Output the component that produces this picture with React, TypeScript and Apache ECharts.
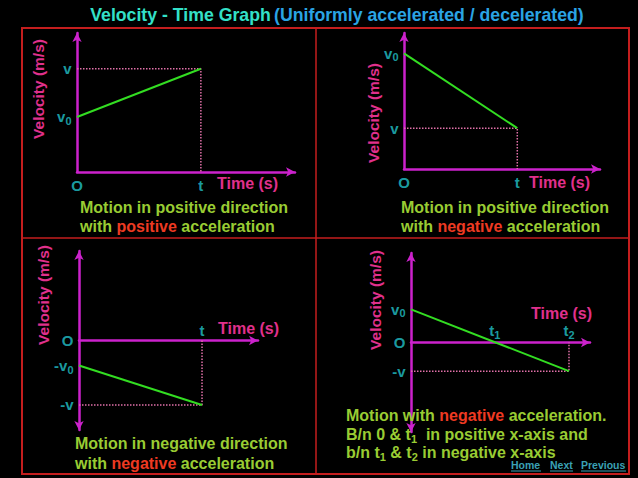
import React, { useEffect, useRef } from 'react';
import * as echarts from 'echarts';

// Panel 1: positive direction, positive acceleration
const q1Time = [0, 10];
const q1Velocity = [4, 7.5];
const q1YTicks = [{ label: 'v', value: 7.5 }, { label: 'v_0', value: 4 }];
const q1XTicks = [{ label: 't', value: 10 }];

// Panel 2: positive direction, negative acceleration
const q2Time = [0, 10];
const q2Velocity = [8.5, 3];
const q2YTicks = [{ label: 'v_0', value: 8.5 }, { label: 'v', value: 3 }];
const q2XTicks = [{ label: 't', value: 10 }];

// Panel 3: negative direction, negative acceleration
const q3Time = [0, 10];
const q3Velocity = [-2.8, -7.2];
const q3YTicks = [{ label: '-v_0', value: -2.8 }, { label: '-v', value: -7.2 }];
const q3XTicks = [{ label: 't', value: 10 }];

// Panel 4: crosses zero at t1
const q4Time = [0, 10];
const q4Velocity = [3.7, -3.2];
const q4YTicks = [{ label: 'v_0', value: 3.7 }, { label: '-v', value: -3.2 }];
const q4XTicks = [{ label: 't_1', value: 5.3 }, { label: 't_2', value: 10 }];

const FONT = '"Liberation Sans", Arial, sans-serif';
const MAGENTA = '#cc22cc';
const GREEN = '#33dd22';
const DOTTED = '#e070a8';
const CYAN = '#22c4cc';
const PINK = '#e0308c';
const TEXT_GREEN = '#99cc33';
const RED = '#ee3a22';
const BORDER = '#c41e1e';

const panels = [
  { time: q1Time, velocity: q1Velocity, yTicks: q1YTicks, xTicks: q1XTicks,
    grid: { left: 77, top: 33, width: 218, height: 139 }, xMax: 17.6, yMin: 0, yMax: 10.1,
    xSide: 'bottom', originSide: 'bottom', bothArrows: false },
  { time: q2Time, velocity: q2Velocity, yTicks: q2YTicks, xTicks: q2XTicks,
    grid: { left: 404, top: 33, width: 196, height: 136 }, xMax: 17.3, yMin: 0, yMax: 10,
    xSide: 'bottom', originSide: 'bottom', bothArrows: false },
  { time: q3Time, velocity: q3Velocity, yTicks: q3YTicks, xTicks: q3XTicks,
    grid: { left: 79, top: 251, width: 179, height: 179 }, xMax: 14.55, yMin: -10, yMax: 10,
    xSide: 'top', originSide: 'left', bothArrows: true },
  { time: q4Time, velocity: q4Velocity, yTicks: q4YTicks, xTicks: q4XTicks,
    grid: { left: 411, top: 253, width: 179, height: 179 }, xMax: 11.33, yMin: -10, yMax: 10,
    xSide: 'top', originSide: 'left', bothArrows: true },
];

const sub = (s: string) => s.replace(/_(\d)/g, '{s|$1}');

const tickRich = {
  s: { fontSize: 11, fontWeight: 'bold', fontFamily: FONT, color: CYAN, verticalAlign: 'bottom', padding: [8, 0, 0, 0] },
};

const captionRich = {
  r: { fill: RED, color: RED, fontSize: 16, fontWeight: 'bold', fontFamily: FONT },
  s: {
    fill: TEXT_GREEN, color: TEXT_GREEN, fontSize: 11, fontWeight: 'bold', fontFamily: FONT,
    verticalAlign: 'bottom', padding: [10, 0, 0, 0],
  },
};

const text = (x: number, y: number, str: string, fill: string, size = 16, extra: any = {}) => ({
  type: 'text',
  x,
  y,
  silent: true,
  ...extra,
  style: {
    text: str,
    fill,
    fontSize: size,
    fontWeight: 'bold',
    fontFamily: FONT,
    verticalAlign: 'middle',
    align: extra.align || 'left',
    rich: captionRich,
  },
});

const vLabel = (x: number, y: number) =>
  text(x, y, 'Velocity (m/s)', PINK, 15.5, { rotation: Math.PI / 2, align: 'center' });

const link = (x: number, w: number, str: string) => [
  text(x, 465, str, '#3aa0b4', 10.5),
  { type: 'line', silent: true, shape: { x1: x, y1: 471, x2: x + w, y2: 471 }, style: { stroke: '#3aa0b4', lineWidth: 1 } },
];

const App: React.FC = () => {
  const chartRef = useRef<HTMLDivElement>(null);

  useEffect(() => {
    if (!chartRef.current) return;
    const chart = echarts.init(chartRef.current, undefined, { renderer: 'svg' });

    const axisLine = (arrows: string[]) => ({
      show: true,
      onZero: true,
      symbol: arrows,
      symbolSize: [7, 9],
      lineStyle: { color: MAGENTA, width: 2.5 },
    });

    const series: any[] = [];
    panels.forEach((p, i) => {
      const end = p.time.length - 1;
      series.push({
        type: 'line',
        xAxisIndex: i,
        yAxisIndex: i,
        data: p.time.map((t, k) => [t, p.velocity[k]]),
        symbol: 'none',
        silent: true,
        z: 3,
        lineStyle: { color: GREEN, width: 2 },
      });
      series.push({
        type: 'line',
        xAxisIndex: i,
        yAxisIndex: i,
        data: [[0, p.velocity[end]], [p.time[end], p.velocity[end]], [p.time[end], 0]],
        symbol: 'none',
        silent: true,
        z: 2,
        lineStyle: { color: DOTTED, width: 1.5, type: 'dotted' },
      });
      const labelData = [
        ...p.yTicks.map((t) => ({ value: [0, t.value], label: { position: 'left', formatter: sub(t.label) } })),
        ...p.xTicks.map((t) => ({
          value: [t.value, 0],
          label: { position: p.xSide, distance: p.xSide === 'top' ? 2 : 5, formatter: sub(t.label) },
        })),
        { value: [0, 0], label: { position: p.originSide, formatter: 'O' } },
      ];
      series.push({
        type: 'scatter',
        xAxisIndex: i,
        yAxisIndex: i,
        data: labelData,
        symbolSize: 1,
        silent: true,
        itemStyle: { color: 'transparent' },
        label: {
          show: true,
          distance: 5,
          color: CYAN,
          fontSize: 15,
          fontWeight: 'bold',
          fontFamily: FONT,
          rich: tickRich,
        },
      });
    });

    const graphic: any[] = [
      { type: 'rect', silent: true, shape: { x: 22, y: 28, width: 607, height: 446 }, style: { fill: 'none', stroke: BORDER, lineWidth: 2 } },
      { type: 'line', silent: true, shape: { x1: 316, y1: 28, x2: 316, y2: 474 }, style: { stroke: BORDER, lineWidth: 1.5 } },
      { type: 'line', silent: true, shape: { x1: 22, y1: 238, x2: 629, y2: 238 }, style: { stroke: BORDER, lineWidth: 1.5 } },
      {
        type: 'text',
        x: 337,
        y: 15,
        silent: true,
        style: {
          text: '{a|Velocity - Time Graph} {b|(Uniformly accelerated / decelerated)}',
          align: 'center',
          verticalAlign: 'middle',
          rich: {
            a: { fill: '#33e0c8', color: '#33e0c8', fontSize: 17.7, fontWeight: 'bold', fontFamily: FONT },
            b: { fill: '#2aa4e4', color: '#2aa4e4', fontSize: 17.7, fontWeight: 'bold', fontFamily: FONT },
          },
        },
      },
      vLabel(38, 89),
      vLabel(373, 113),
      vLabel(43, 295),
      vLabel(375, 300),
      text(217, 183, 'Time (s)', PINK),
      text(529, 182, 'Time (s)', PINK),
      text(218, 328, 'Time (s)', PINK),
      text(531, 313, 'Time (s)', PINK),
      text(80, 207, 'Motion in positive direction', TEXT_GREEN),
      text(80, 226, 'with {r|positive} acceleration', TEXT_GREEN),
      text(401, 207, 'Motion in positive direction', TEXT_GREEN),
      text(401, 226, 'with {r|negative} acceleration', TEXT_GREEN),
      text(75, 443, 'Motion in negative direction', TEXT_GREEN),
      text(75, 463, 'with {r|negative} acceleration', TEXT_GREEN),
      text(346, 415, 'Motion with {r|negative} acceleration.', TEXT_GREEN, 16, { z: 10 }),
      text(346, 434, 'B/n 0 & t{s|1}  in positive x-axis and', TEXT_GREEN, 16, { z: 10 }),
      text(346, 452, 'b/n t{s|1} & t{s|2} in negative x-axis', TEXT_GREEN, 16, { z: 10 }),
      ...link(511, 30, 'Home'),
      ...link(550, 23, 'Next'),
      ...link(581, 45, 'Previous'),
    ];

    chart.setOption({
      animation: false,
      backgroundColor: '#000000',
      grid: panels.map((p) => ({ ...p.grid })),
      xAxis: panels.map((p, i) => ({
        type: 'value',
        gridIndex: i,
        min: 0,
        max: p.xMax,
        axisLine: axisLine(['none', 'arrow']),
        axisTick: { show: false },
        axisLabel: { show: false },
        splitLine: { show: false },
      })),
      yAxis: panels.map((p, i) => ({
        type: 'value',
        gridIndex: i,
        min: p.yMin,
        max: p.yMax,
        axisLine: axisLine(p.bothArrows ? ['arrow', 'arrow'] : ['none', 'arrow']),
        axisTick: { show: false },
        axisLabel: { show: false },
        splitLine: { show: false },
      })),
      series,
      graphic,
    });

    return () => chart.dispose();
  }, []);

  return (
    <div
      ref={chartRef}
      style={{ position: 'fixed', left: 0, top: 0, width: 638, height: 478, background: '#000' }}
    />
  );
};

export default App;
